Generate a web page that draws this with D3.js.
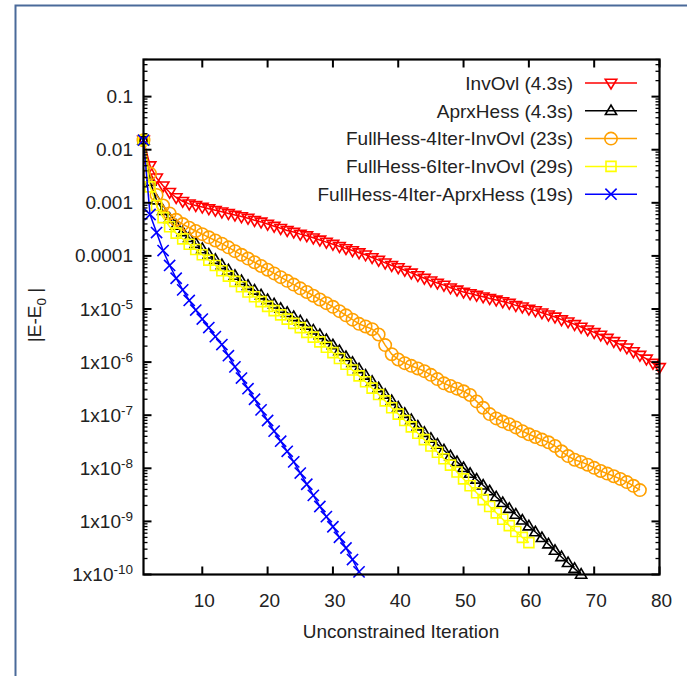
<!DOCTYPE html>
<html>
<head>
<meta charset="utf-8">
<script src="https://cdn.jsdelivr.net/npm/d3@7/dist/d3.min.js"></script>
<style>
  body { margin: 0; background: #fff; }
  svg text { font-family: "Liberation Sans", Arial, sans-serif; fill: #222; }
</style>
</head>
<body>
<svg id="chart" width="687" height="676"></svg>
<script>
// |E - E0| per unconstrained iteration (iteration n is the n-th entry)
const invOvl = [
  1.51e-2, 5.01e-3, 2.95e-3, 2.09e-3, 1.58e-3, 1.26e-3, 1.07e-3, 9.55e-4, 8.91e-4, 8.32e-4,
  7.76e-4, 7.24e-4, 6.76e-4, 6.31e-4, 5.89e-4, 5.50e-4, 5.13e-4, 4.68e-4, 4.37e-4, 3.98e-4,
  3.63e-4, 3.31e-4, 3.02e-4, 2.82e-4, 2.57e-4, 2.40e-4, 2.19e-4, 2.00e-4, 1.82e-4, 1.66e-4,
  1.51e-4, 1.38e-4, 1.26e-4, 1.15e-4, 1.05e-4, 9.33e-5, 8.32e-5, 7.41e-5, 6.61e-5, 6.03e-5,
  5.37e-5, 4.79e-5, 4.27e-5, 3.80e-5, 3.39e-5, 3.09e-5, 2.82e-5, 2.51e-5, 2.29e-5, 2.09e-5,
  1.95e-5, 1.82e-5, 1.70e-5, 1.58e-5, 1.48e-5, 1.38e-5, 1.29e-5, 1.17e-5, 1.10e-5, 1.00e-5,
  9.33e-6, 8.51e-6, 7.76e-6, 7.08e-6, 6.31e-6, 5.75e-6, 5.13e-6, 4.57e-6, 4.07e-6, 3.63e-6,
  3.24e-6, 2.82e-6, 2.45e-6, 2.14e-6, 1.86e-6, 1.58e-6, 1.35e-6, 1.15e-6, 9.55e-7, 7.94e-7
];
const aprxHess = [
  1.51e-2, 2.51e-3, 1.12e-3, 7.08e-4, 5.01e-4, 3.72e-4, 2.82e-4, 2.19e-4, 1.70e-4, 1.35e-4,
  1.07e-4, 8.51e-5, 6.76e-5, 5.37e-5, 4.27e-5, 3.39e-5, 2.75e-5, 2.24e-5, 1.82e-5, 1.48e-5,
  1.23e-5, 1.02e-5, 8.51e-6, 7.08e-6, 5.89e-6, 4.90e-6, 3.98e-6, 3.24e-6, 2.63e-6, 2.09e-6,
  1.62e-6, 1.26e-6, 9.77e-7, 7.41e-7, 5.62e-7, 4.27e-7, 3.24e-7, 2.45e-7, 1.86e-7, 1.41e-7,
  1.07e-7, 8.13e-8, 6.17e-8, 4.68e-8, 3.63e-8, 2.82e-8, 2.19e-8, 1.70e-8, 1.32e-8, 1.02e-8,
  7.94e-9, 6.17e-9, 4.79e-9, 3.72e-9, 2.88e-9, 2.24e-9, 1.74e-9, 1.35e-9, 1.05e-9, 8.13e-10,
  6.31e-10, 4.90e-10, 3.72e-10, 2.82e-10, 2.14e-10, 1.66e-10, 1.29e-10, 1.00e-10
];
const fullHess4InvOvl = [
  1.51e-2, 3.55e-3, 1.41e-3, 8.91e-4, 6.31e-4, 4.79e-4, 3.98e-4, 3.39e-4, 2.95e-4, 2.57e-4,
  2.24e-4, 1.95e-4, 1.70e-4, 1.45e-4, 1.23e-4, 1.05e-4, 8.91e-5, 7.59e-5, 6.46e-5, 5.50e-5,
  4.68e-5, 3.98e-5, 3.39e-5, 2.88e-5, 2.45e-5, 2.09e-5, 1.78e-5, 1.51e-5, 1.29e-5, 1.10e-5,
  9.12e-6, 7.59e-6, 6.31e-6, 5.25e-6, 4.68e-6, 4.17e-6, 3.31e-6, 2.09e-6, 1.41e-6, 1.12e-6,
  9.55e-7, 8.51e-7, 7.59e-7, 6.76e-7, 5.75e-7, 4.79e-7, 3.98e-7, 3.55e-7, 3.16e-7, 2.82e-7,
  2.40e-7, 1.82e-7, 1.38e-7, 1.05e-7, 8.71e-8, 7.59e-8, 6.76e-8, 5.89e-8, 5.01e-8, 4.37e-8,
  3.89e-8, 3.47e-8, 3.09e-8, 2.63e-8, 2.09e-8, 1.70e-8, 1.45e-8, 1.32e-8, 1.17e-8, 1.02e-8,
  8.91e-9, 7.94e-9, 7.08e-9, 6.31e-9, 5.50e-9, 4.68e-9, 3.89e-9
];
const fullHess6InvOvl = [
  1.51e-2, 2.00e-3, 8.91e-4, 5.25e-4, 3.55e-4, 2.69e-4, 2.09e-4, 1.66e-4, 1.32e-4, 1.05e-4,
  8.32e-5, 6.61e-5, 5.25e-5, 4.17e-5, 3.31e-5, 2.63e-5, 2.09e-5, 1.70e-5, 1.38e-5, 1.12e-5,
  9.33e-6, 7.76e-6, 6.46e-6, 5.37e-6, 4.47e-6, 3.63e-6, 2.95e-6, 2.40e-6, 1.91e-6, 1.51e-6,
  1.17e-6, 9.12e-7, 7.08e-7, 5.50e-7, 4.27e-7, 3.24e-7, 2.45e-7, 1.86e-7, 1.38e-7, 1.05e-7,
  7.94e-8, 6.03e-8, 4.57e-8, 3.47e-8, 2.63e-8, 2.00e-8, 1.51e-8, 1.15e-8, 8.51e-9, 6.31e-9,
  4.68e-9, 3.47e-9, 2.57e-9, 1.91e-9, 1.45e-9, 1.10e-9, 8.32e-10, 6.46e-10, 5.01e-10, 3.98e-10
];
const fullHess4AprxHess = [
  1.51e-2, 6.03e-4, 2.75e-4, 1.26e-4, 6.61e-5, 3.80e-5, 2.29e-5, 1.45e-5, 9.55e-6, 6.46e-6,
  4.47e-6, 3.02e-6, 2.14e-6, 1.32e-6, 8.13e-7, 5.01e-7, 3.16e-7, 2.00e-7, 1.26e-7, 7.94e-8,
  5.01e-8, 3.24e-8, 2.09e-8, 1.32e-8, 8.13e-9, 5.01e-9, 3.09e-9, 1.91e-9, 1.23e-9, 7.94e-10,
  5.01e-10, 3.16e-10, 1.91e-10, 1.12e-10
];

const seriesNames = [
  "InvOvl (4.3s)",
  "AprxHess (4.3s)",
  "FullHess-4Iter-InvOvl (23s)",
  "FullHess-6Iter-InvOvl (29s)",
  "FullHess-4Iter-AprxHess (19s)"
];
const seriesValues = [invOvl, aprxHess, fullHess4InvOvl, fullHess6InvOvl, fullHess4AprxHess];
const seriesColors = ["#ff0000", "#000000", "#ffa000", "#ffff00", "#0000ff"];
const seriesMarkers = ["triangleDown", "triangleUp", "circle", "square", "cross"];

const xTicks = [10, 20, 30, 40, 50, 60, 70, 80];
const yTickExponents = [-1, -2, -3, -4, -5, -6, -7, -8, -9, -10];
const xTitle = "Unconstrained Iteration";

// ---- layout ----
const svg = d3.select("#chart");
const plot = { left: 143.5, right: 659.5, top: 59.5, bottom: 574.5 };
const fontSize = 19;

const x = d3.scaleLinear().domain([1, 80]).range([plot.left, plot.right]);
const y = d3.scaleLog().domain([1e-10, 0.5]).range([plot.bottom, plot.top]);

// outer frame
svg.append("rect")
  .attr("x", 15.5).attr("y", 5.5).attr("width", 700).attr("height", 700)
  .attr("fill", "none").attr("stroke", "#4a6a9a").attr("stroke-width", 2);

// open point symbols
function markerPath(kind) {
  switch (kind) {
    case "triangleDown": return "M-5.8,-3.8L5.8,-3.8L0,6Z";
    case "triangleUp": return "M-5.6,3.7L5.6,3.7L0,-5.8Z";
    case "square": return "M-5,-5H5V5H-5Z";
    case "cross": return "M-5.6,-5.6L5.6,5.6M-5.6,5.6L5.6,-5.6";
    case "circle": return d3.arc()({ innerRadius: 0, outerRadius: 6.2, startAngle: 0, endAngle: 2 * Math.PI });
  }
}

const dataLayer = svg.append("g");
const line = d3.line().x((d, i) => x(i + 1)).y(d => y(d));

seriesValues.forEach((vals, k) => {
  const g = dataLayer.append("g");
  g.append("path").attr("d", line(vals))
    .attr("fill", "none").attr("stroke", seriesColors[k]).attr("stroke-width", 1.5);
  g.selectAll("path.mk").data(vals).join("path")
    .attr("class", "mk")
    .attr("transform", (d, i) => `translate(${x(i + 1)},${y(d)})`)
    .attr("d", markerPath(seriesMarkers[k]))
    .attr("fill", "none").attr("stroke", seriesColors[k]).attr("stroke-width", 1.6);
});

// ---- axes ----
const axes = svg.append("g").attr("stroke", "#000").attr("fill", "none");
axes.append("rect")
  .attr("x", plot.left).attr("y", plot.top)
  .attr("width", plot.right - plot.left).attr("height", plot.bottom - plot.top)
  .attr("stroke-width", 2.2);

// y ticks: major at decades, minor at 2..9 of each decade
const yMajor = yTickExponents.map(e => Math.pow(10, e));
const yMinor = [];
for (let e = -10; e <= -1; e++) for (let m = 2; m <= 9; m++) {
  const v = m * Math.pow(10, e);
  if (v <= 0.5) yMinor.push(v);
}
yMajor.forEach(v => {
  axes.append("line").attr("x1", plot.left).attr("x2", plot.left + 8).attr("y1", y(v)).attr("y2", y(v)).attr("stroke-width", 2);
  axes.append("line").attr("x1", plot.right).attr("x2", plot.right - 8).attr("y1", y(v)).attr("y2", y(v)).attr("stroke-width", 2);
});
yMinor.forEach(v => {
  axes.append("line").attr("x1", plot.left).attr("x2", plot.left + 4).attr("y1", y(v)).attr("y2", y(v)).attr("stroke-width", 1.3);
  axes.append("line").attr("x1", plot.right).attr("x2", plot.right - 4).attr("y1", y(v)).attr("y2", y(v)).attr("stroke-width", 1.3);
});
// x ticks, bottom and mirrored on top
xTicks.forEach(t => {
  axes.append("line").attr("x1", x(t)).attr("x2", x(t)).attr("y1", plot.bottom).attr("y2", plot.bottom - 8).attr("stroke-width", 2);
  axes.append("line").attr("x1", x(t)).attr("x2", x(t)).attr("y1", plot.top).attr("y2", plot.top + 8).attr("stroke-width", 2);
});

// tick labels
const labels = svg.append("g").attr("font-size", fontSize);
xTicks.forEach(t => {
  labels.append("text").attr("x", x(t) + 2).attr("y", 607)
    .attr("text-anchor", "middle").text(t);
});
yTickExponents.forEach(e => {
  const v = Math.pow(10, e);
  const txt = labels.append("text").attr("x", 133).attr("y", y(v) + 6.5).attr("text-anchor", "end");
  if (e >= -4) {
    txt.text(v.toFixed(-e));
  } else {
    txt.append("tspan").text("1x10");
    txt.append("tspan").attr("dy", -7).attr("font-size", 13.5).text(e);
  }
});

// axis titles
svg.append("text").attr("x", 401).attr("y", 638).attr("text-anchor", "middle")
  .attr("font-size", fontSize).text(xTitle);
const yTitle = svg.append("text")
  .attr("transform", "translate(41,315) rotate(-90)")
  .attr("text-anchor", "middle").attr("font-size", fontSize);
yTitle.append("tspan").text("|E-E");
yTitle.append("tspan").attr("dy", 5).attr("font-size", 13.5).text("0");
yTitle.append("tspan").attr("dy", -5).text(" |");

// ---- legend ----
const legend = svg.append("g");
const legendRow0 = 83, legendStep = 27.8;
seriesNames.forEach((name, k) => {
  const yy = legendRow0 + k * legendStep;
  legend.append("text").attr("x", 573).attr("y", yy + 6.8)
    .attr("text-anchor", "end").attr("font-size", fontSize).text(name);
  legend.append("line").attr("x1", 585).attr("x2", 637).attr("y1", yy).attr("y2", yy)
    .attr("stroke", seriesColors[k]).attr("stroke-width", 1.5);
  legend.append("path").attr("transform", `translate(611,${yy})`)
    .attr("d", markerPath(seriesMarkers[k]))
    .attr("fill", "none").attr("stroke", seriesColors[k]).attr("stroke-width", 1.6);
});
</script>
</body>
</html>
